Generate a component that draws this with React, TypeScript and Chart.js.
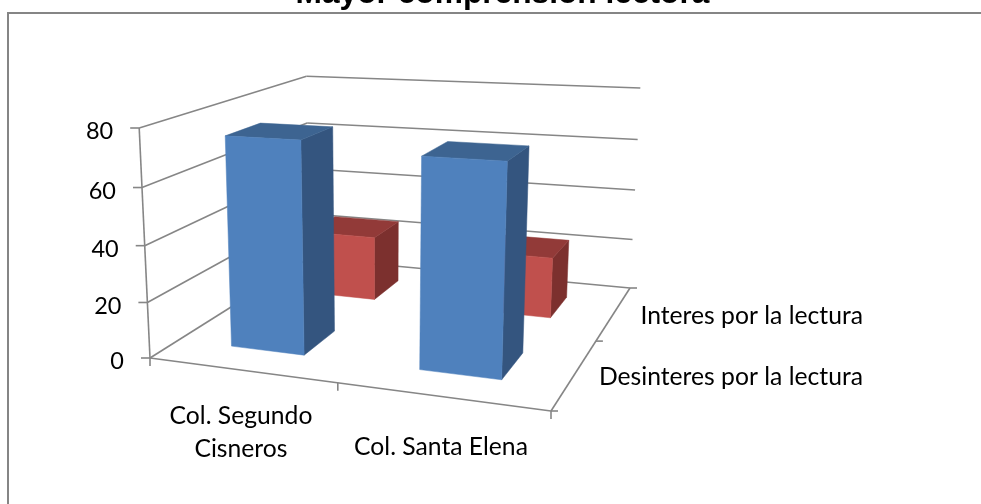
import React, { useEffect, useRef } from "react";
import { Chart, registerables } from "chart.js";

Chart.register(...registerables);

const chartTitle = "Mayor comprensión lectora";
const categories = [["Col. Segundo", "Cisneros"], ["Col. Santa Elena"]];
const seriesNames = ["Desinteres por la lectura", "Interes por la lectura"];
const desinteres = [75, 72];
const interes = [25, 23];
const yTicks = { min: 0, max: 80, stepSize: 20 };

const FONT = "24.7px Lato";
const TICK_FONT = "23.5px Lato";
const LINE = "#868686";
const FACES = [
  { front: "#4F81BD", side: "#34557F", top: "#3D6491" },
  { front: "#C0504D", side: "#7C302E", top: "#923A38" },
];

type Pt = [number, number];

function makeProjection(p0: Pt, p1: Pt, p2: Pt, p3: Pt, t0: Pt, vanish: Pt) {
  const dx1 = p1[0] - p2[0], dx2 = p3[0] - p2[0], sx = p0[0] - p1[0] + p2[0] - p3[0];
  const dy1 = p1[1] - p2[1], dy2 = p3[1] - p2[1], sy = p0[1] - p1[1] + p2[1] - p3[1];
  const den = dx1 * dy2 - dx2 * dy1;
  const g = (sx * dy2 - dx2 * sy) / den;
  const h = (dx1 * sy - sx * dy1) / den;
  const a = p1[0] - p0[0] + g * p1[0], b = p3[0] - p0[0] + h * p3[0];
  const d = p1[1] - p0[1] + g * p1[1], e = p3[1] - p0[1] + h * p3[1];
  const k = (p0[1] - t0[1]) / (t0[1] - vanish[1]);
  const xh = k * vanish[0];
  const yh = k * vanish[1];
  return (u: number, v: number, z: number): Pt => {
    const w = g * u + h * v + 1 + k * z;
    return [(a * u + b * v + p0[0] + xh * z) / w, (d * u + e * v + p0[1] + yh * z) / w];
  };
}

const CANVAS_TOP = 40;
const off = (p: Pt): Pt => [p[0], p[1] + CANVAS_TOP];
const project = makeProjection(
  off([150, 358]), off([551, 411]), off([630, 288]), off([309, 258]),
  off([139, 128]), off([377, 5190])
);

const line = (ctx: CanvasRenderingContext2D, a: Pt, b: Pt) => {
  ctx.beginPath();
  ctx.moveTo(a[0], a[1]);
  ctx.lineTo(b[0], b[1]);
  ctx.stroke();
};
const face = (ctx: CanvasRenderingContext2D, pts: Pt[], color: string) => {
  ctx.beginPath();
  pts.forEach((p, i) => (i ? ctx.lineTo(p[0], p[1]) : ctx.moveTo(p[0], p[1])));
  ctx.closePath();
  ctx.fillStyle = color;
  ctx.fill();
  ctx.strokeStyle = color;
  ctx.lineWidth = 0.5;
  ctx.stroke();
};

const scene3d = {
  id: "scene3d",
  beforeDraw(chart: any) {
    const ctx: CanvasRenderingContext2D = chart.ctx;
    ctx.save();
    ctx.fillStyle = "#fff";
    ctx.fillRect(0, 0, chart.width, chart.height);
    ctx.strokeStyle = "#858585";
    ctx.lineWidth = 2;
    ctx.beginPath();
    ctx.moveTo(8, chart.height);
    ctx.lineTo(8, 13 + CANVAS_TOP);
    ctx.lineTo(chart.width, 13 + CANVAS_TOP);
    ctx.stroke();
    ctx.restore();
  },
  beforeDatasetsDraw(chart: any) {
    const ctx: CanvasRenderingContext2D = chart.ctx;
    const yScale = chart.scales.y;
    const area = chart.chartArea;
    const zOf = (px: number) => (area.bottom - px) / area.height;
    ctx.save();
    ctx.strokeStyle = LINE;
    ctx.lineWidth = 1.6;
    yScale.ticks.forEach((t: any) => {
      const z = zOf(yScale.getPixelForValue(t.value));
      const front = project(0, 0, z);
      const back = project(0, 1, z);
      const right = project(1, 1, z);
      line(ctx, front, back);
      line(ctx, back, right);
      line(ctx, [front[0] - 9, front[1]], front);
      ctx.fillStyle = "#000";
      ctx.font = TICK_FONT;
      ctx.textAlign = "right";
      ctx.textBaseline = "middle";
      ctx.fillText(t.label, front[0] - 26, front[1] + 3.5);
    });
    line(ctx, project(0, 0, 0), project(0, 0, 1));
    line(ctx, project(0, 0, 0), project(1, 0, 0));
    line(ctx, project(1, 0, 0), project(1, 1, 0));
    [0, 0.5, 1].forEach((u) => {
      const p = project(u, 0, 0);
      line(ctx, p, [p[0], p[1] + 8]);
    });
    [0, 0.5, 1].forEach((v) => {
      const p = project(1, v, 0);
      line(ctx, p, [p[0] + 7, p[1]]);
    });

    const order = chart.data.datasets.map((_: any, i: number) => i).reverse();
    order.forEach((i: number) => {
      const colors = FACES[i];
      const meta = chart.getDatasetMeta(i);
      const v0 = (i + 0.5) / 2 - 0.1;
      const v1 = (i + 0.5) / 2 + 0.1;
      meta.data.forEach((el: any) => {
        const u0 = (el.x - el.width / 2 - area.left) / area.width;
        const u1 = (el.x + el.width / 2 - area.left) / area.width;
        const z = zOf(el.y);
        face(ctx, [project(u1, v0, 0), project(u1, v1, 0), project(u1, v1, z), project(u1, v0, z)], colors.side);
        face(ctx, [project(u0, v0, z), project(u1, v0, z), project(u1, v1, z), project(u0, v1, z)], colors.top);
        face(ctx, [project(u0, v0, 0), project(u1, v0, 0), project(u1, v0, z), project(u0, v0, z)], colors.front);
      });
    });

    ctx.fillStyle = "#000";
    ctx.font = FONT;
    ctx.textBaseline = "middle";
    ctx.textAlign = "center";
    const labelCenters: Pt[] = [[241, 416], [441, 447]];
    categories.forEach((lines, i) => {
      lines.forEach((txt, j) => {
        ctx.fillText(txt, labelCenters[i][0], labelCenters[i][1] + CANVAS_TOP + j * 33);
      });
    });
    ctx.textAlign = "right";
    const seriesY = [377, 316];
    seriesNames.forEach((name, i) => ctx.fillText(name, 863, seriesY[i] + CANVAS_TOP));
    ctx.restore();
  },
};

export default function App() {
  const ref = useRef<HTMLCanvasElement>(null);
  useEffect(() => {
    const chart = new Chart(ref.current!, {
      type: "bar",
      data: {
        labels: categories,
        datasets: [
          { label: seriesNames[0], data: desinteres, backgroundColor: "rgba(0,0,0,0)", grouped: false, barPercentage: 0.4, categoryPercentage: 1 },
          { label: seriesNames[1], data: interes, backgroundColor: "rgba(0,0,0,0)", grouped: false, barPercentage: 0.4, categoryPercentage: 1 },
        ],
      },
      options: {
        responsive: false,
        animation: false,
        events: [],
        layout: { padding: 0 },
        plugins: {
          legend: { display: false },
          tooltip: { enabled: false },
          title: {
            display: true,
            text: chartTitle,
            color: "#000",
            font: { family: "Liberation Sans", size: 31.7, weight: "bold" },
            padding: { top: 15, bottom: 0 },
          },
        },
        scales: {
          x: { display: false },
          y: { display: false, min: yTicks.min, max: yTicks.max, ticks: { stepSize: yTicks.stepSize } },
        },
      },
      plugins: [scene3d],
    } as any);
    return () => chart.destroy();
  }, []);
  return (
    <div style={{ position: "absolute", left: 0, top: 0, width: 981, height: 504, overflow: "hidden", background: "#fff" }}>
      <canvas ref={ref} width={1005} height={504 + CANVAS_TOP} style={{ position: "absolute", left: 0, top: -CANVAS_TOP }} />
    </div>
  );
}
